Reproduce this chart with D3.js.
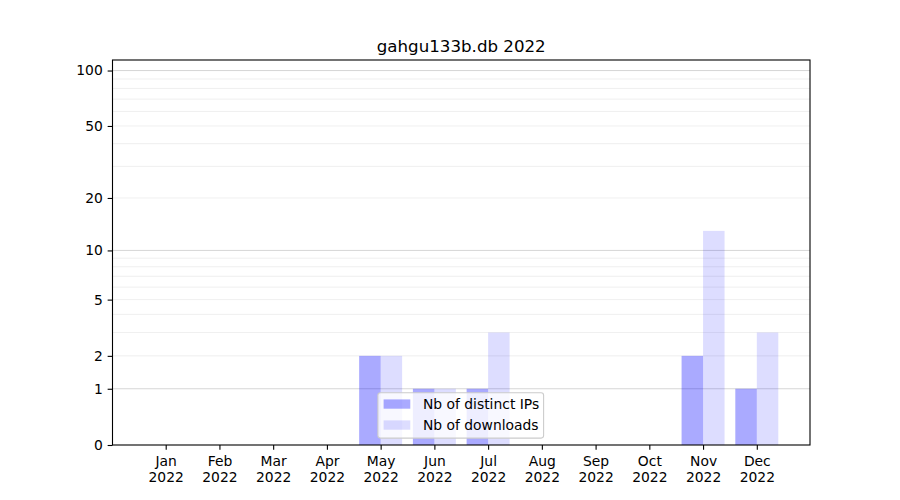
<!DOCTYPE html>
<html><head><meta charset="utf-8">
<script src="https://cdn.jsdelivr.net/npm/d3@7"></script>
<style>body{margin:0;background:#fff}svg text{font-family:"DejaVu Sans",sans-serif}</style>
</head><body><svg id="c" width="900" height="500"></svg>
<script>
const title = "gahgu133b.db 2022";
const months = ["Jan","Feb","Mar","Apr","May","Jun","Jul","Aug","Sep","Oct","Nov","Dec"];
const year = "2022";
const distinctIPs = [0,0,0,0,2,1,1,0,0,0,2,1];
const downloads = [0,0,0,0,2,1,3,0,0,0,13,3];
const seriesNames = ["Nb of distinct IPs","Nb of downloads"];
const yTicks = [0,1,2,5,10,20,50,100];
const yMajorGrid = [1,10,100];
const yMinorGrid = [2,3,4,5,6,7,8,9,20,30,40,50,60,70,80,90];

const W = 900, H = 500;
const L = 112.5, R = 810, T = 60, B = 445;
const svg = d3.select("#c");
const fs = 13.89;
const tk = 4.86;

const x = d3.scaleLinear().domain([0.01, 12.99]).range([L, R]);
const y = d3.scaleSymlog().constant(1).domain([0, 114]).range([B, T]);
const bw = 0.4;

// grid
const g = svg.append("g");
g.selectAll("line.minor").data(yMinorGrid).enter().append("line")
  .attr("x1", L).attr("x2", R).attr("y1", d => y(d)).attr("y2", d => y(d))
  .attr("stroke", "#ebebeb").attr("stroke-width", 0.8);
g.selectAll("line.major").data(yMajorGrid).enter().append("line")
  .attr("x1", L).attr("x2", R).attr("y1", d => y(d)).attr("y2", d => y(d))
  .attr("stroke", "#cccccc").attr("stroke-width", 0.8);

// bars
const colors = ["blue", "blue"], alphas = [1/3, 0.135];
svg.append("g").selectAll("rect").data(distinctIPs).enter().append("rect")
  .attr("x", (d, i) => x(i + 1 - bw)).attr("width", (d, i) => x(i + 1) - x(i + 1 - bw))
  .attr("y", d => y(d)).attr("height", d => B - y(d))
  .attr("fill", colors[0]).attr("fill-opacity", alphas[0]);
svg.append("g").selectAll("rect").data(downloads).enter().append("rect")
  .attr("x", (d, i) => x(i + 1)).attr("width", (d, i) => x(i + 1 + bw) - x(i + 1))
  .attr("y", d => y(d)).attr("height", d => B - y(d))
  .attr("fill", colors[1]).attr("fill-opacity", alphas[1]);

// axes
const ya = svg.append("g").attr("transform", `translate(${L},0)`)
  .call(d3.axisLeft(y).tickValues(yTicks).tickFormat(d3.format("d")).tickSize(tk).tickPadding(tk).tickSizeOuter(0));
const xa = svg.append("g").attr("transform", `translate(0,${B})`)
  .call(d3.axisBottom(x).tickValues(d3.range(1, 13)).tickFormat(d => months[d - 1]).tickSize(tk).tickPadding(tk).tickSizeOuter(0));
[ya, xa].forEach(a => {
  a.select(".domain").remove();
  a.selectAll("text").attr("font-size", fs).attr("fill", "#000").attr("font-family", "DejaVu Sans");
  a.selectAll("line").attr("stroke", "#000").attr("stroke-width", 1.1);
});
xa.selectAll("text").each(function (d) {
  const t = d3.select(this);
  t.text(null).attr("dy", null).attr("y", 0);
  t.append("tspan").attr("x", 0).attr("y", 20.8).text(months[d - 1]);
  t.append("tspan").attr("x", 0).attr("y", 36.8).text(year);
});

// frame
svg.append("rect").attr("x", L).attr("y", T).attr("width", R - L).attr("height", B - T)
  .attr("fill", "none").attr("stroke", "#000").attr("stroke-width", 1.1);

// title
svg.append("text").attr("x", (L + R) / 2).attr("y", 52).attr("text-anchor", "middle")
  .attr("font-size", 16.67).attr("fill", "#000").text(title);

// legend
const lg = svg.append("g");
const lw = 165.7, lh = 45.4;
const lx = (L + R) / 2 - lw / 2 - 0.5, ly = B - 6.9 - lh;
lg.append("rect").attr("x", lx).attr("y", ly).attr("width", lw).attr("height", lh)
  .attr("rx", 2.5).attr("fill", "#fff").attr("fill-opacity", 0.8)
  .attr("stroke", "#cccccc").attr("stroke-width", 1.1);
seriesNames.forEach((n, i) => {
  lg.append("rect").attr("x", lx + 5.7).attr("y", ly + 6.7 + i * 21).attr("width", 26.7).attr("height", 9.3)
    .attr("fill", colors[i]).attr("fill-opacity", alphas[i]);
  lg.append("text").attr("x", lx + 45).attr("y", ly + 16.4 + i * 21)
    .attr("font-size", fs).attr("fill", "#000").text(n);
});
</script></body></html>
